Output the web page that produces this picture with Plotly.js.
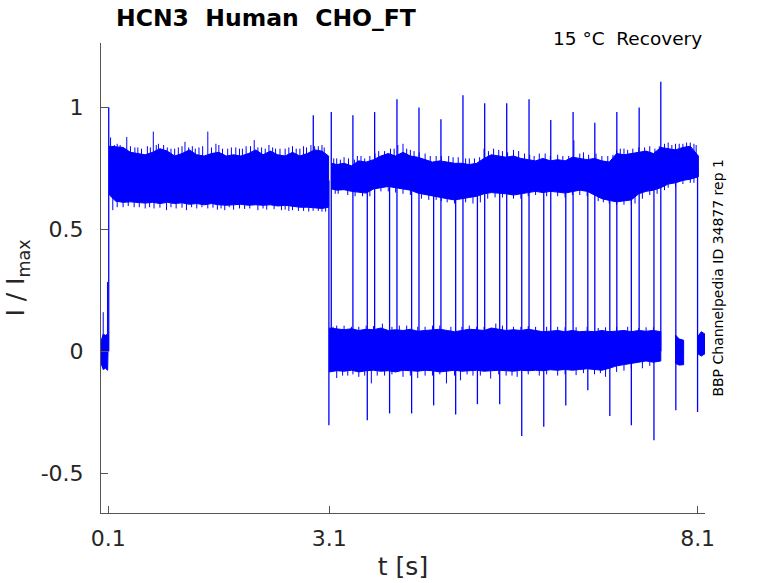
<!DOCTYPE html>
<html>
<head>
<meta charset="utf-8">
<script src="https://cdn.plot.ly/plotly-3.0.1.min.js"></script>
<style>
  body { margin: 0; background: #fff; }
  #chart { width: 778px; height: 583px; }
</style>
</head>
<body>
<div id="chart"></div>
<script>

// noisy bands of the current trace (t in s, I/Imax)
let bandA_t  = [0.0, 0.03, 0.06, 0.09, 0.1]
let bandA_hi = [0.04, 0.07, 0.065, 0.07, 0.06]
let bandA_lo = [-0.05, -0.075, -0.07, -0.078, -0.07]

let bandB_t  = [0.115, 0.2, 0.3, 0.4, 0.5, 0.6, 0.7, 0.8, 0.9, 1.0, 1.1, 1.2, 1.3, 1.4, 1.5, 1.6,
                1.7, 1.8, 1.9, 2.0, 2.1, 2.2, 2.3, 2.4, 2.5, 2.6, 2.7, 2.8, 2.9, 3.0, 3.09]
let bandB_hi = [0.84, 0.838, 0.835, 0.815, 0.81, 0.805, 0.815, 0.83, 0.82, 0.80, 0.81, 0.825, 0.805, 0.80, 0.81, 0.815,
                0.80, 0.805, 0.80, 0.81, 0.825, 0.805, 0.82, 0.805, 0.80, 0.815, 0.80, 0.81, 0.825, 0.82, 0.80]
let bandB_lo = [0.64, 0.615, 0.61, 0.612, 0.61, 0.607, 0.61, 0.605, 0.61, 0.605, 0.608, 0.602, 0.605, 0.60, 0.605, 0.60,
                0.598, 0.60, 0.602, 0.598, 0.60, 0.598, 0.60, 0.595, 0.598, 0.595, 0.59, 0.59, 0.588, 0.585, 0.59]

let bandC_t  = [3.13, 3.2, 3.3, 3.4, 3.5, 3.6, 3.7, 3.8, 3.9, 4.0, 4.1, 4.2, 4.3, 4.4, 4.5, 4.6, 4.7, 4.8, 4.9, 5.0,
                5.1, 5.2, 5.3, 5.4, 5.5, 5.6, 5.7, 5.8, 5.9, 6.0, 6.1, 6.2, 6.3, 6.4, 6.5, 6.6, 6.7, 6.8, 6.9, 7.0,
                7.1, 7.2, 7.3, 7.4, 7.5, 7.6, 7.7, 7.8, 7.9, 8.0, 8.11]
let bandC_hi = [0.77, 0.765, 0.77, 0.76, 0.78, 0.775, 0.785, 0.80, 0.81, 0.80, 0.815, 0.80, 0.795, 0.785, 0.775, 0.78, 0.775, 0.77, 0.77, 0.765,
                0.77, 0.79, 0.805, 0.80, 0.795, 0.80, 0.79, 0.785, 0.78, 0.79, 0.78, 0.785, 0.78, 0.795, 0.79, 0.785, 0.79, 0.78, 0.775, 0.81,
                0.805, 0.81, 0.815, 0.82, 0.81, 0.835, 0.83, 0.825, 0.835, 0.84, 0.80]
let bandC_lo = [0.665, 0.66, 0.662, 0.655, 0.65, 0.648, 0.665, 0.67, 0.675, 0.67, 0.665, 0.66, 0.648, 0.64, 0.635, 0.63, 0.625, 0.62, 0.625, 0.63,
                0.635, 0.645, 0.65, 0.648, 0.645, 0.64, 0.645, 0.65, 0.655, 0.65, 0.655, 0.652, 0.648, 0.655, 0.66, 0.655, 0.64, 0.625, 0.618, 0.612,
                0.615, 0.62, 0.645, 0.655, 0.66, 0.67, 0.685, 0.69, 0.70, 0.705, 0.715]

let bandD_t  = [3.1, 3.2, 3.3, 3.4, 3.5, 3.6, 3.7, 3.8, 3.9, 4.0, 4.1, 4.2, 4.3, 4.4, 4.5, 4.6, 4.7, 4.8, 4.9, 5.0,
                5.1, 5.2, 5.3, 5.4, 5.5, 5.6, 5.7, 5.8, 5.9, 6.0, 6.1, 6.2, 6.3, 6.4, 6.5, 6.6, 6.7, 6.8, 6.9, 7.0,
                7.1, 7.2, 7.3, 7.4, 7.5, 7.6]
let bandD_hi = [0.095, 0.09, 0.088, 0.092, 0.085, 0.09, 0.088, 0.095, 0.085, 0.088, 0.085, 0.09, 0.082, 0.085, 0.088, 0.09, 0.085, 0.08, 0.085, 0.09,
                0.088, 0.085, 0.095, 0.09, 0.085, 0.088, 0.085, 0.09, 0.085, 0.08, 0.082, 0.085, 0.08, 0.085, 0.08, 0.082, 0.08, 0.085, 0.08, 0.082,
                0.085, 0.08, 0.085, 0.082, 0.085, 0.08]
let bandD_lo = [-0.085, -0.08, -0.082, -0.078, -0.085, -0.08, -0.078, -0.082, -0.08, -0.085, -0.078, -0.08, -0.082, -0.078, -0.08, -0.085, -0.08, -0.078, -0.082, -0.08,
                -0.078, -0.082, -0.08, -0.078, -0.08, -0.082, -0.078, -0.08, -0.078, -0.08, -0.076, -0.078, -0.075, -0.078, -0.075, -0.072, -0.075, -0.078, -0.07, -0.06,
                -0.055, -0.05, -0.045, -0.04, -0.045, -0.04]

let bandE_t  = [7.80, 7.85, 7.91]
let bandE_hi = [0.066, 0.05, 0.045]
let bandE_lo = [-0.05, -0.057, -0.055]

let bandF_t  = [8.10, 8.15, 8.20]
let bandF_hi = [0.06, 0.08, 0.07]
let bandF_lo = [-0.01, -0.02, -0.01]

// steps between the two levels (time, top of line, bottom of line)
let stepT  = [0.105, 2.882, 3.094, 3.126, 3.42, 3.615, 3.715, 3.918, 4.018, 4.217, 4.317, 4.516, 4.615, 4.815, 4.914,
              5.11, 5.209, 5.413, 5.508, 5.712, 5.811, 6.011, 6.106, 6.31, 6.409, 6.609, 6.704, 6.908, 7.003, 7.20,
              7.306, 7.507, 7.60, 7.804, 8.099]
let stepHi = [1.0, 0.967, 0.70, 0.98, 0.967, 0.68, 0.98, 0.68, 1.033, 0.68, 0.999, 0.68, 0.951, 0.68, 1.049,
              0.68, 1.016, 0.68, 1.016, 0.68, 1.033, 0.68, 0.947, 0.68, 0.98, 0.68, 0.936, 0.68, 0.98, 0.68,
              0.999, 0.70, 1.104, 0.72, 0.75]
let stepLo = [0.0, 0.75, -0.303, 0.03, 0.03, -0.283, 0.03, -0.255, 0.03, -0.255, 0.03, -0.222, 0.03, -0.259, 0.03,
              -0.217, 0.03, -0.217, 0.03, -0.347, 0.03, -0.31, 0.03, -0.222, 0.03, -0.16, 0.03, -0.266, 0.03, -0.303,
              0.03, -0.365, 0.0, -0.242, -0.249]

// short noise spikes sticking out of the bands (time, tip)
let spikeT = [0.03, 0.088,
  0.13, 0.18, 0.22, 0.26, 0.35, 0.4, 0.46, 0.5, 0.55, 0.63, 0.67, 0.71, 0.75, 0.78, 0.85, 0.9, 0.95, 1.0, 1.05, 1.1, 1.14,
  1.19, 1.24, 1.28, 1.33, 1.38, 1.45, 1.5, 1.56, 1.6, 1.65, 1.72, 1.77, 1.83, 1.88, 1.92, 1.97, 2.03, 2.08, 2.13, 2.18,
  2.23, 2.28, 2.33, 2.37, 2.43, 2.5, 2.55, 2.6, 2.65, 2.7, 2.75, 2.79, 2.85, 2.9, 2.95, 3.0, 3.03,
  0.16, 0.22, 0.3, 0.37, 0.45, 0.52, 0.6, 0.66, 0.72, 0.8, 0.89, 0.95, 1.02, 1.1, 1.16, 1.23, 1.3, 1.37, 1.45, 1.52,
  1.58, 1.63, 1.68, 1.74, 1.8, 1.88, 1.95, 2.02, 2.13, 2.2, 2.25, 2.35, 2.45, 2.5, 2.55, 2.6, 2.68, 2.75, 2.82, 2.88,
  2.95, 3.0, 3.05,
  3.16, 3.2, 3.25, 3.3, 3.36, 3.44, 3.48, 3.53, 3.58, 3.65, 3.72, 3.77, 3.85, 3.93, 3.98, 4.03, 4.1, 4.15, 4.2, 4.25,
  4.32, 4.4, 4.47, 4.55, 4.62, 4.72, 4.78, 4.85, 4.95, 5.0, 5.07, 5.14, 5.2, 5.26, 5.33, 5.4, 5.45, 5.52, 5.6, 5.67,
  5.75, 5.82, 5.88, 5.95, 6.03, 6.1, 6.2, 6.27, 6.35, 6.42, 6.5, 6.55, 6.62, 6.72, 6.8, 6.88, 6.95, 7.0, 7.05, 7.1,
  7.15, 7.22, 7.3, 7.38, 7.45, 7.52, 7.58, 7.65, 7.7, 7.75, 7.8, 7.85, 7.9, 7.95, 8.0, 8.05, 8.08,
  3.18, 3.22, 3.35, 3.45, 3.55, 3.65, 3.8, 3.9, 4.0, 4.1, 4.2, 4.35, 4.45, 4.55, 4.62, 4.7, 4.8, 4.95, 5.05, 5.15,
  5.25, 5.35, 5.45, 5.6, 5.7, 5.8, 5.9, 6.05, 6.2, 6.3, 6.4, 6.5, 6.6, 6.75, 6.82, 6.9, 7.0, 7.1, 7.2, 7.25,
  7.35, 7.45, 7.55, 7.65, 7.7, 7.8, 7.9, 8.0, 8.05,
  3.15, 3.2, 3.3, 3.4, 3.5, 3.6, 3.7, 3.82, 3.95, 4.05, 4.15, 4.3, 4.4, 4.5, 4.6, 4.75, 4.9, 5.0, 5.1, 5.2,
  5.36, 5.45, 5.6, 5.7, 5.8, 5.9, 6.05, 6.2, 6.3, 6.45, 6.6, 6.75, 6.85, 7.0, 7.15, 7.3, 7.4, 7.5,
  3.2, 3.28, 3.35, 3.42, 3.5, 3.58, 3.67, 3.75, 3.85, 3.95, 4.1, 4.2, 4.3, 4.4, 4.5, 4.6, 4.69, 4.8, 4.88, 4.97,
  5.05, 5.15, 5.29, 5.4, 5.5, 5.58, 5.65, 5.8, 5.95, 6.05, 6.2, 6.3, 6.45, 6.55, 6.7, 6.78, 6.85, 7.0, 7.1, 7.2,
  7.35, 7.45]
let spikeTip = [0.16, 0.284,
  0.876, 0.845, 0.85, 0.845, 0.878, 0.84, 0.835, 0.835, 0.83, 0.84, 0.835, 0.90, 0.845, 0.85, 0.845, 0.835, 0.83, 0.83, 0.835, 0.84, 0.858,
  0.835, 0.84, 0.83, 0.835, 0.84, 0.90, 0.835, 0.85, 0.845, 0.83, 0.83, 0.835, 0.835, 0.83, 0.83, 0.84, 0.84, 0.865, 0.835, 0.835,
  0.83, 0.845, 0.835, 0.83, 0.83, 0.83, 0.835, 0.84, 0.83, 0.83, 0.84, 0.835, 0.845, 0.84, 0.84, 0.845, 0.835,
  0.578, 0.59, 0.59, 0.595, 0.59, 0.59, 0.585, 0.59, 0.585, 0.588, 0.578, 0.59, 0.585, 0.588, 0.578, 0.59, 0.585, 0.59, 0.585, 0.588,
  0.58, 0.585, 0.578, 0.59, 0.58, 0.585, 0.583, 0.585, 0.578, 0.585, 0.58, 0.582, 0.578, 0.58, 0.575, 0.578, 0.575, 0.575, 0.572, 0.575,
  0.575, 0.572, 0.572,
  0.79, 0.79, 0.785, 0.795, 0.79, 0.785, 0.80, 0.80, 0.79, 0.80, 0.81, 0.82, 0.82, 0.83, 0.83, 0.845, 0.85, 0.83, 0.825, 0.82,
  0.815, 0.81, 0.80, 0.80, 0.80, 0.80, 0.795, 0.795, 0.79, 0.79, 0.79, 0.795, 0.83, 0.82, 0.83, 0.825, 0.82, 0.815, 0.825, 0.82,
  0.81, 0.805, 0.80, 0.81, 0.81, 0.80, 0.805, 0.80, 0.80, 0.864, 0.81, 0.815, 0.805, 0.81, 0.80, 0.80, 0.805, 0.825, 0.83, 0.83,
  0.825, 0.83, 0.835, 0.835, 0.84, 0.83, 0.84, 0.85, 0.855, 0.845, 0.85, 0.85, 0.85, 0.855, 0.855, 0.85, 0.845,
  0.645, 0.645, 0.64, 0.635, 0.635, 0.635, 0.655, 0.655, 0.65, 0.645, 0.64, 0.625, 0.62, 0.62, 0.615, 0.61, 0.605, 0.61, 0.605, 0.61,
  0.625, 0.63, 0.63, 0.625, 0.625, 0.635, 0.64, 0.635, 0.635, 0.63, 0.64, 0.64, 0.635, 0.615, 0.61, 0.605, 0.60, 0.60, 0.60, 0.605,
  0.625, 0.64, 0.645, 0.66, 0.67, 0.675, 0.685, 0.69, 0.69,
  0.10, 0.105, 0.105, 0.10, 0.10, 0.105, 0.103, 0.113, 0.10, 0.105, 0.105, 0.10, 0.10, 0.105, 0.105, 0.10, 0.10, 0.105, 0.10, 0.10,
  0.113, 0.105, 0.10, 0.10, 0.103, 0.10, 0.10, 0.10, 0.098, 0.098, 0.10, 0.095, 0.098, 0.10, 0.10, 0.095, 0.098, 0.098,
  -0.11, -0.10, -0.10, -0.095, -0.105, -0.10, -0.132, -0.10, -0.10, -0.095, -0.105, -0.10, -0.11, -0.10, -0.10, -0.095, -0.132, -0.10, -0.119, -0.095,
  -0.10, -0.10, -0.112, -0.095, -0.10, -0.10, -0.105, -0.095, -0.10, -0.095, -0.10, -0.095, -0.098, -0.09, -0.095, -0.09, -0.105, -0.085, -0.08, -0.07,
  -0.07, -0.06]

let xTickVals = [0.1, 3.1, 8.1]
let xTickText = ['0.1', '3.1', '8.1']
let yTickVals = [-0.5, 0, 0.5, 1]
let yTickText = ['-0.5', '0', '0.5', '1']

// base of each spike sits inside the band it comes out of
let spikeBase = spikeTip.map((tip) => (tip > 0.5 ? 0.71 : 0))


function bandTrace(t, hi, lo) {
    let x = t.concat(t.slice().reverse())
    let y = hi.concat(lo.slice().reverse())
    x.push(t[0])
    y.push(hi[0])
    return {
        x: x,
        y: y,
        mode: 'lines',
        fill: 'toself',
        fillcolor: '#0000ff',
        line: {color: '#0000ff', width: 1},
        hoverinfo: 'skip'
    }
}

function segTrace(t, a, b, w) {
    let x = []
    let y = []
    t.forEach((v, i) => {
        x.push(v, v, null)
        y.push(a[i], b[i], null)
    })
    return {
        x: x,
        y: y,
        mode: 'lines',
        line: {color: '#0000ff', width: w},
        connectgaps: false,
        hoverinfo: 'skip'
    }
}

var veri = [
    bandTrace(bandA_t, bandA_hi, bandA_lo),
    bandTrace(bandB_t, bandB_hi, bandB_lo),
    bandTrace(bandC_t, bandC_hi, bandC_lo),
    bandTrace(bandD_t, bandD_hi, bandD_lo),
    bandTrace(bandE_t, bandE_hi, bandE_lo),
    bandTrace(bandF_t, bandF_hi, bandF_lo),
    segTrace(spikeT, spikeTip, spikeBase, 1),
    segTrace(stepT, stepHi, stepLo, 1.3)
]

var textGrey = '#262626'
var lineGrey = '#555555'

var layout = {
    width: 778,
    height: 583,
    margin: {l: 101, r: 73, t: 43, b: 70},
    paper_bgcolor: '#ffffff',
    plot_bgcolor: '#ffffff',
    showlegend: false,
    font: {family: 'DejaVu Sans', color: textGrey},

    xaxis: {
        range: [0, 8.2],
        tickvals: xTickVals,
        ticktext: xTickText,
        ticks: 'inside',
        ticklen: 7,
        tickwidth: 1,
        tickcolor: lineGrey,
        showline: true,
        linecolor: lineGrey,
        linewidth: 1,
        showgrid: false,
        zeroline: false,
        tickfont: {size: 22, color: textGrey},
        ticklabelstandoff: 6,
        title: {text: 't [s]', font: {size: 25, color: textGrey}, standoff: 7}
    },

    yaxis: {
        range: [-0.663, 1.263],
        tickvals: yTickVals,
        ticktext: yTickText,
        ticks: 'inside',
        ticklen: 7,
        tickwidth: 1,
        tickcolor: lineGrey,
        showline: true,
        linecolor: lineGrey,
        linewidth: 1,
        showgrid: false,
        zeroline: false,
        tickfont: {size: 22, color: textGrey},
        ticklabelstandoff: 12,
        title: {text: 'I / I<sub>max</sub>', font: {size: 25, color: textGrey}, standoff: 8}
    },

    annotations: [
        {
            text: '<b>HCN3\u00a0 Human\u00a0 CHO_FT</b>',
            xref: 'paper', yref: 'paper',
            x: 0.021, y: 1.02,
            xanchor: 'left', yanchor: 'bottom',
            showarrow: false,
            font: {size: 23.5, color: '#000000'}
        },
        {
            text: '15 °C\u00a0 Recovery',
            xref: 'paper', yref: 'paper',
            x: 0.998, y: 0.982,
            xanchor: 'right', yanchor: 'bottom',
            showarrow: false,
            font: {size: 18.5, color: '#000000'}
        },
        {
            text: 'BBP Channelpedia ID 34877 rep 1',
            xref: 'paper', yref: 'paper',
            x: 1.02, y: 0.501,
            xanchor: 'center', yanchor: 'middle',
            textangle: -90,
            showarrow: false,
            font: {size: 14, color: '#000000'}
        }
    ]
};

Plotly.newPlot('chart', veri, layout, {staticPlot: true});
</script>
</body>
</html>
